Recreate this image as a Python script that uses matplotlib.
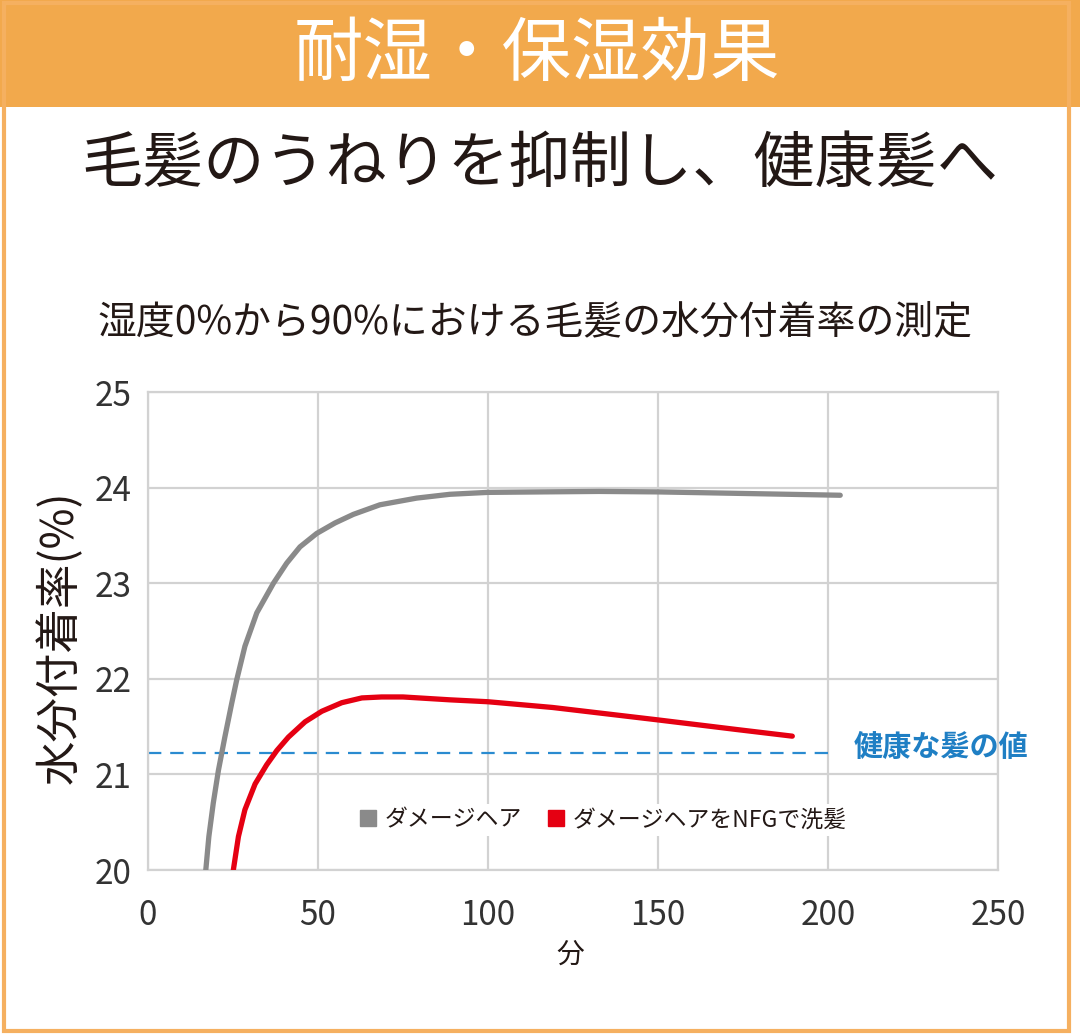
import matplotlib
matplotlib.use("Agg")
import matplotlib.pyplot as plt
from matplotlib.patches import Rectangle
from matplotlib.lines import Line2D

plt.rcParams["font.family"] = ["Noto Sans CJK JP", "DejaVu Sans"]

# ── data ─────────────────────────────────────────────────────────────────
damaged_x = [17.0, 17.9, 19.2, 20.7, 22.6, 24.6, 26.1, 28.5, 32.0, 36.9,
             40.8, 44.7, 49.6, 55.0, 60.4, 68.2, 79.0, 88.8, 100.0, 116.0,
             132.7, 150.0, 173.0, 203.6]
damaged_y = [20.0, 20.35, 20.70, 21.04, 21.39, 21.74, 21.99, 22.34, 22.69, 23.0,
             23.21, 23.38, 23.52, 23.63, 23.72, 23.82, 23.89, 23.93, 23.95, 23.955,
             23.96, 23.955, 23.94, 23.92]

nfg_x = [25.1, 26.6, 28.5, 31.5, 34.9, 37.9, 41.3, 46.2, 51.1, 57.0,
         62.9, 68.7, 75.0, 88.8, 100.0, 119.0, 150.0, 173.0, 189.5]
nfg_y = [20.0, 20.35, 20.63, 20.90, 21.10, 21.25, 21.39, 21.55, 21.66, 21.75,
         21.80, 21.81, 21.81, 21.78, 21.76, 21.70, 21.57, 21.47, 21.40]

healthy_value = 21.22
healthy_range = [0, 200]

series_labels = ["ダメージヘア", "ダメージヘアをNFGで洗髪"]
x_ticks = [0, 50, 100, 150, 200, 250]
y_ticks = [20, 21, 22, 23, 24, 25]

header = "耐湿・保湿効果"
title = "毛髪のうねりを抑制し、健康髪へ"
subtitle = "湿度0%から90%における毛髪の水分付着率の測定"
ylabel = "水分付着率(%)"
xlabel = "分"
healthy_label = "健康な髪の値"

gray = "#8a8a8a"
red = "#e50012"
blue = "#1f7fc4"
orange = "#f2a94c"
text_col = "#231815"

fig = plt.figure(figsize=(10.8, 10.36), dpi=100)

# orange header band and frame
fig.patches.append(Rectangle((0, 1 - 107 / 1036), 1, 107 / 1036,
                             transform=fig.transFigure, facecolor=orange,
                             edgecolor="none", zorder=0))
fig.patches.append(Rectangle((4 / 1080, 5 / 1036), 1065 / 1080, 1028 / 1036,
                             transform=fig.transFigure, fill=False,
                             edgecolor="#f5b060", linewidth=3, zorder=1))

fig.text(0.497, 1 - 55 / 1036, header, color="white", fontsize=50,
         ha="center", va="center")
fig.text(0.5, 1 - 165 / 1036, title, color=text_col, fontsize=44,
         ha="center", va="center")
fig.text(0.495, 1 - 322 / 1036, subtitle, color=text_col, fontsize=28,
         ha="center", va="center")

ax = fig.add_axes([148 / 1080, 1 - 870 / 1036, 850 / 1080, 478 / 1036])

ax.plot(damaged_x, damaged_y, color=gray, linewidth=3.8,
        solid_capstyle="round", solid_joinstyle="round", zorder=3)
ax.plot(nfg_x, nfg_y, color=red, linewidth=3.8,
        solid_capstyle="round", solid_joinstyle="round", zorder=3)
ax.hlines(healthy_value, healthy_range[0], healthy_range[1], colors="#2a8bd0",
          linewidth=1.6, linestyles=(0, (6, 4)), zorder=2)

ax.text(207.5, healthy_value + 0.07, healthy_label, color=blue, fontsize=21,
        fontweight="bold", ha="left", va="center", clip_on=False, zorder=4)

ax.set_xlim(0, 250)
ax.set_ylim(20, 25)
ax.set_xticks(x_ticks)
ax.set_yticks(y_ticks)
ax.tick_params(axis="both", length=0, labelsize=24, labelcolor="#333333")
ax.tick_params(axis="x", pad=20)
ax.tick_params(axis="y", pad=12)
ax.grid(True, color="#d2d2d2", linewidth=1.6)
ax.set_axisbelow(True)
for sp in ax.spines.values():
    sp.set_color("#d2d2d2")
    sp.set_linewidth(1.6)

fig.text(60 / 1080, 1 - 637 / 1036, ylabel, rotation=90, fontsize=32,
         color=text_col, ha="center", va="center")
fig.text(570 / 1080, 1 - 955 / 1036, xlabel, fontsize=20, color=text_col,
         ha="center", va="center")

handles = [Line2D([], [], marker="s", linestyle="none", markersize=11,
                  markerfacecolor=c, markeredgecolor=c) for c in (gray, red)]
leg = ax.legend(handles, series_labels, loc="center", ncol=2,
                bbox_to_anchor=(0.535, 0.105), fontsize=16.5, frameon=True,
                framealpha=1, edgecolor="none", facecolor="white",
                handletextpad=0.3, columnspacing=1.1, borderpad=0.2,
                handlelength=0.8)
for t in leg.get_texts():
    t.set_color(text_col)

fig.savefig("out.png", dpi=100, facecolor="white")
